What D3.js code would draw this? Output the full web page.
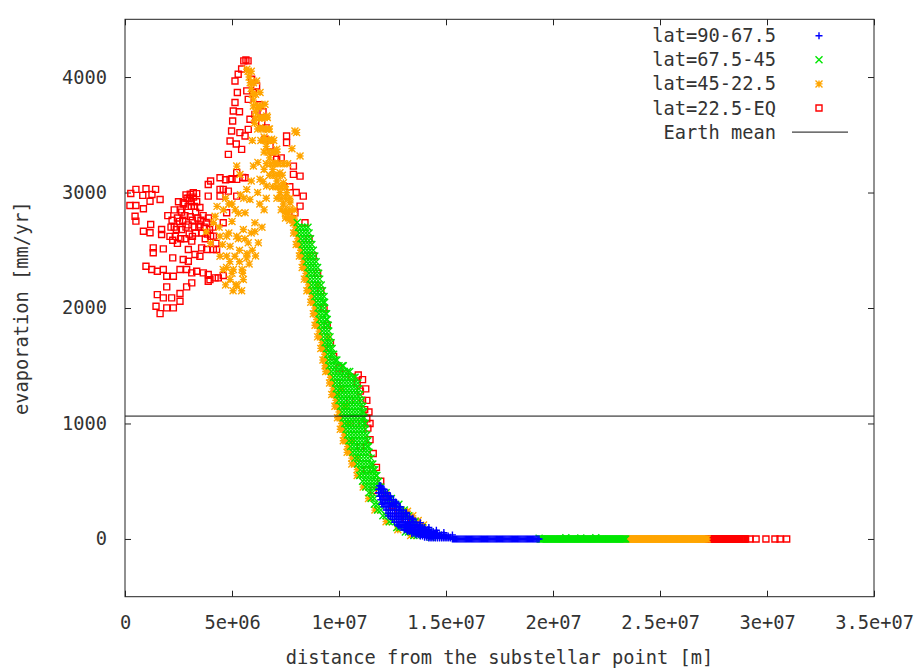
<!DOCTYPE html>
<html>
<head>
<meta charset="utf-8">
<script src="https://cdn.jsdelivr.net/npm/d3@7"></script>
<style>
  body { margin: 0; background: #fff; }
  text { font-family: "DejaVu Sans Mono", monospace; font-size: 18.7px; fill: #333; }
</style>
</head>
<body>
<svg id="chart" width="917" height="668"></svg>
<script>
// Distances are listed in units of 10^6 m, evaporation in mm/yr.
// Scattered samples are [distance, evaporation] pairs; dense stretches are
// listed as rows: [evaporation, [distances sharing that value]].
const DIST_UNIT = 1e6;

const xTickValues = [0, 5e6, 1e7, 1.5e7, 2e7, 2.5e7, 3e7, 3.5e7];
const xTickLabels = ["0", "5e+06", "1e+07", "1.5e+07", "2e+07", "2.5e+07", "3e+07", "3.5e+07"];
const yTickValues = [0, 1000, 2000, 3000, 4000];
const yTickLabels = ["0", "1000", "2000", "3000", "4000"];
const xTitle = "distance from the substellar point [m]";
const yTitle = "evaporation [mm/yr]";
const earthMeanEvap = 1064;

const seriesLabels = ["lat=90-67.5", "lat=67.5-45", "lat=45-22.5", "lat=22.5-EQ"];
const seriesColors = ["#0000ff", "#00e600", "#ffa500", "#ff0000"];

// ---- lat 90-67.5 ----
const polarRows = [
  [460, [11.88, 11.95]],
  [430, [11.85, 11.95, 12.05, 12.1]],
  [400, [11.87, 11.97, 12.07, 12.17, 12.25]],
  [370, [11.9, 12.0, 12.1, 12.2, 12.3, 12.4]],
  [340, [11.95, 12.05, 12.15, 12.25, 12.35, 12.45, 12.55]],
  [310, [12.05, 12.15, 12.25, 12.35, 12.45, 12.55, 12.65, 12.7]],
  [280, [12.1, 12.2, 12.3, 12.4, 12.5, 12.6, 12.7, 12.8, 12.85]],
  [250, [12.2, 12.3, 12.4, 12.5, 12.6, 12.7, 12.8, 12.9, 13.0]],
  [220, [12.3, 12.4, 12.5, 12.6, 12.7, 12.8, 12.9, 13.0, 13.1, 13.15]],
  [195, [12.4, 12.5, 12.6, 12.7, 12.8, 12.9, 13.0, 13.1, 13.2, 13.3]],
  [170, [12.5, 12.6, 12.7, 12.8, 12.9, 13.0, 13.1, 13.2, 13.3, 13.4, 13.45]],
  [145, [12.6, 12.7, 12.8, 12.9, 13.0, 13.1, 13.2, 13.3, 13.4, 13.5, 13.6]],
  [120, [12.75, 12.85, 12.95, 13.05, 13.15, 13.25, 13.35, 13.45, 13.55, 13.65, 13.75, 13.8]],
  [100, [12.9, 13.0, 13.1, 13.2, 13.3, 13.4, 13.5, 13.6, 13.7, 13.8, 13.9, 14.0]],
  [80, [13.05, 13.15, 13.25, 13.35, 13.45, 13.55, 13.65, 13.75, 13.85, 13.95, 14.05, 14.15, 14.2]],
  [65, [13.2, 13.3, 13.4, 13.5, 13.6, 13.7, 13.8, 13.9, 14.0, 14.1, 14.2, 14.3, 14.4]],
  [50, [13.4, 13.5, 13.6, 13.7, 13.8, 13.9, 14.0, 14.1, 14.2, 14.3, 14.4, 14.5, 14.6]],
  [37, [13.6, 13.7, 13.8, 13.9, 14.0, 14.1, 14.2, 14.3, 14.4, 14.5, 14.6, 14.7, 14.8, 14.9]],
  [25, [13.8, 13.9, 14.0, 14.1, 14.2, 14.3, 14.4, 14.5, 14.6, 14.7, 14.8, 14.9, 15.0, 15.1]],
  [15, [14.0, 14.1, 14.2, 14.3, 14.4, 14.5, 14.6, 14.7, 14.8, 14.9, 15.0, 15.1, 15.2]],
  [8, [14.2, 14.3, 14.4, 14.5, 14.6, 14.7, 14.8, 14.9, 15.0, 15.1, 15.2, 15.3]],
  [0, [15.3, 15.35, 15.4, 15.45, 15.5, 15.55, 15.6, 15.65, 15.7, 15.75, 15.8, 15.85, 15.9, 15.95,
       16.0, 16.05, 16.1, 16.15, 16.2, 16.25, 16.3, 16.35, 16.4, 16.45, 16.5, 16.55, 16.6, 16.65,
       16.7, 16.75, 16.8, 16.85, 16.9, 16.95, 17.0, 17.05, 17.1, 17.15, 17.2, 17.25, 17.3, 17.35,
       17.4, 17.45, 17.5, 17.55, 17.6, 17.65, 17.7, 17.75, 17.8, 17.85, 17.9, 17.95, 18.0, 18.05,
       18.1, 18.15, 18.2, 18.25, 18.3, 18.35, 18.4, 18.45, 18.5, 18.55, 18.6, 18.65, 18.7, 18.75,
       18.8, 18.85, 18.9, 18.95, 19.0, 19.05, 19.1, 19.15, 19.2, 19.25, 19.3, 19.35]]
];
const polarPoints = [
  [12.0,440],[12.4,370],[12.85,280],[13.45,180],[14.2,100],[14.9,55],[15.3,35],[12.65,320],
  [13.15,230],[13.8,140],[14.55,75],[11.85,400],[12.0,300],[12.3,200],[12.8,110],[13.4,50]
];

// ---- lat 67.5-45 ----
const midRows = [
  [2740, [8.05]],
  [2700, [8.1, 8.25, 8.4, 8.55]],
  [2650, [8.15, 8.3, 8.45, 8.6]],
  [2600, [8.22, 8.37, 8.52, 8.67]],
  [2550, [8.28, 8.43, 8.58, 8.73]],
  [2500, [8.35, 8.5, 8.65, 8.8]],
  [2450, [8.42, 8.57, 8.72, 8.87]],
  [2400, [8.48, 8.63, 8.78, 8.93]],
  [2350, [8.55, 8.7, 8.85, 9.0]],
  [2300, [8.6, 8.75, 8.9, 9.05]],
  [2250, [8.65, 8.8, 8.95, 9.1]],
  [2200, [8.72, 8.87, 9.02, 9.17]],
  [2150, [8.78, 8.93, 9.08, 9.23]],
  [2100, [8.87, 9.02, 9.17, 9.3]],
  [2050, [8.95, 9.1, 9.25, 9.33]],
  [2000, [9.02, 9.17, 9.32]],
  [1950, [9.07, 9.22, 9.37, 9.42]],
  [1900, [9.1, 9.25, 9.4, 9.45]],
  [1850, [9.15, 9.3, 9.45, 9.5]],
  [1800, [9.22, 9.37, 9.52]],
  [1750, [9.28, 9.43, 9.58]],
  [1700, [9.35, 9.5, 9.63]],
  [1650, [9.42, 9.57, 9.68]],
  [1600, [9.48, 9.63, 9.75]],
  [1550, [9.52, 9.67, 9.82, 9.9]],
  [1500, [9.55, 9.7, 9.85, 10.0, 10.15, 10.2]],
  [1450, [9.65, 9.8, 9.95, 10.1, 10.25, 10.4, 10.5]],
  [1400, [9.75, 9.9, 10.05, 10.2, 10.35, 10.5, 10.65, 10.75]],
  [1350, [9.83, 9.98, 10.13, 10.28, 10.43, 10.58, 10.73, 10.88]],
  [1300, [9.87, 10.02, 10.17, 10.32, 10.47, 10.62, 10.77, 10.92]],
  [1250, [9.93, 10.08, 10.23, 10.38, 10.53, 10.68, 10.83, 10.98]],
  [1200, [10.0, 10.15, 10.3, 10.45, 10.6, 10.75, 10.9, 11.05]],
  [1150, [10.08, 10.23, 10.38, 10.53, 10.68, 10.83, 10.98, 11.12]],
  [1100, [10.15, 10.3, 10.45, 10.6, 10.75, 10.9, 11.05, 11.15]],
  [1050, [10.2, 10.35, 10.5, 10.65, 10.8, 10.95, 11.1, 11.18]],
  [1000, [10.27, 10.42, 10.57, 10.72, 10.87, 11.02, 11.17, 11.22]],
  [950, [10.33, 10.48, 10.63, 10.78, 10.93, 11.08, 11.23]],
  [900, [10.4, 10.55, 10.7, 10.85, 11.0, 11.15, 11.3]],
  [850, [10.47, 10.62, 10.77, 10.92, 11.07, 11.22, 11.35]],
  [800, [10.55, 10.7, 10.85, 11.0, 11.15, 11.3, 11.38]],
  [750, [10.65, 10.8, 10.95, 11.1, 11.25, 11.4]],
  [700, [10.75, 10.9, 11.05, 11.2, 11.35, 11.5]],
  [650, [10.87, 11.02, 11.17, 11.32, 11.47, 11.58]],
  [600, [11.0, 11.15, 11.3, 11.45, 11.6, 11.67]],
  [550, [10.97, 11.12, 11.27, 11.42, 11.57, 11.72, 11.77]],
  [500, [11.1, 11.25, 11.4, 11.55, 11.7, 11.85]],
  [450, [11.25, 11.4, 11.55, 11.7, 11.85, 11.95]],
  [400, [11.4, 11.55, 12.2]],
  [350, [11.5, 11.65, 12.3, 12.45]],
  [300, [11.65, 11.8, 12.65, 12.8]],
  [250, [11.8, 11.95, 12.9, 13.05]],
  [200, [12.05, 12.2, 13.1, 13.25]],
  [150, [12.35, 12.5, 13.4, 13.55]],
  [100, [12.7, 12.85, 13.75, 13.9]],
  [60, [13.1, 13.25, 14.05, 14.2]],
  [30, [13.5, 13.65, 14.45, 14.6]],
  [0, [19.4, 19.45, 19.5, 19.55, 19.6, 19.65, 19.7, 19.75, 19.8, 19.85, 19.9, 19.95, 20.0, 20.05,
       20.1, 20.15, 20.2, 20.25, 20.3, 20.35, 20.4, 20.45, 20.5, 20.55, 20.6, 20.65, 20.7, 20.75,
       20.8, 20.85, 20.9, 20.95, 21.0, 21.05, 21.1, 21.15, 21.2, 21.25, 21.3, 21.35, 21.4, 21.45,
       21.5, 21.55, 21.6, 21.65, 21.7, 21.75, 21.8, 21.85, 21.9, 21.95, 22.0, 22.05, 22.1, 22.15,
       22.2, 22.25, 22.3, 22.35, 22.4, 22.45, 22.5, 22.55, 22.6, 22.65, 22.7, 22.75, 22.8, 22.85,
       22.9, 22.95, 23.0, 23.05, 23.1, 23.15, 23.2, 23.25, 23.3, 23.35, 23.4]]
];
const midPoints = [
  [14.3,15],[14.1,45],[19.35,6],[20.6,10],[21.3,8],[22.0,10]
];

// ---- lat 45-22.5 ----
const subtropicRows = [
  [4050, [5.75, 5.9]],
  [3950, [5.85, 6.0]],
  [3850, [5.95, 6.1]],
  [3750, [6.0, 6.2, 6.4]],
  [3650, [6.1, 6.3, 6.5, 6.65]],
  [3550, [6.2, 6.4, 6.6, 6.75]],
  [3450, [6.35, 6.55, 6.75, 6.95]],
  [3350, [6.5, 6.7, 6.9, 7.1]],
  [3250, [6.6, 6.8, 7.0, 7.2, 7.4]],
  [3150, [6.75, 6.95, 7.15, 7.35]],
  [3050, [6.9, 7.1, 7.3, 7.5]],
  [2950, [7.1, 7.3, 7.5, 7.7]],
  [2850, [7.3, 7.5, 7.7, 7.9]],
  [2780, [7.5, 7.7, 7.9]],
  [2740, [7.9]], [2700, [7.95]], [2650, [7.88, 8.0]], [2600, [8.07]], [2550, [8.0, 8.13]],
  [2500, [8.2]], [2450, [8.15, 8.27]], [2400, [8.33]], [2350, [8.28, 8.4]], [2300, [8.45]],
  [2250, [8.38, 8.5]], [2200, [8.57]], [2150, [8.5, 8.63]], [2100, [8.72]], [2050, [8.68, 8.8]],
  [2000, [8.87]], [1950, [8.8, 8.92]], [1900, [8.95]], [1850, [8.88, 9.0]], [1800, [9.07]],
  [1750, [9.0, 9.13]], [1700, [9.2]], [1650, [9.15, 9.27]], [1600, [9.33]], [1550, [9.25, 9.37]],
  [1500, [9.4]], [1450, [9.38, 9.5]], [1400, [9.6]], [1350, [9.56, 9.68]], [1300, [9.72]],
  [1250, [9.66, 9.78]], [1200, [9.85]], [1150, [9.81, 9.93]], [1100, [10.0]], [1050, [9.93, 10.05]],
  [1000, [10.12]], [950, [10.06, 10.18]], [900, [10.25]], [850, [10.2, 10.32]], [800, [10.4]],
  [750, [10.38, 10.5]], [700, [10.6]], [650, [10.6, 10.72]], [600, [10.85]], [550, [10.85]],
  [450, [11.13]], [350, [11.38]], [250, [11.68]], [150, [12.2]], [80, [12.75]], [30, [13.35]],
  [0, [23.45, 23.5, 23.55, 23.6, 23.65, 23.7, 23.75, 23.8, 23.85, 23.9, 23.95, 24.0, 24.05, 24.1,
       24.15, 24.2, 24.25, 24.3, 24.35, 24.4, 24.45, 24.5, 24.55, 24.6, 24.65, 24.7, 24.75, 24.8,
       24.85, 24.9, 24.95, 25.0, 25.05, 25.1, 25.15, 25.2, 25.25, 25.3, 25.35, 25.4, 25.45, 25.5,
       25.55, 25.6, 25.65, 25.7, 25.75, 25.8, 25.85, 25.9, 25.95, 26.0, 26.05, 26.1, 26.15, 26.2,
       26.25, 26.3, 26.35, 26.4, 26.45, 26.5, 26.55, 26.6, 26.65, 26.7, 26.75, 26.8, 26.85, 26.9,
       26.95, 27.0, 27.05, 27.1, 27.15, 27.2]]
];
const subtropicPoints = [
  [5.69,4068],[5.8,4000],[6.15,3966],[6.31,3866],[6.54,3764],[6.62,3663],[6.23,3735],[6.7,3547],
  [6.85,3461],[7.09,3374],[7.01,3258],[7.24,3172],[7.4,3085],[7.55,2998],[7.71,2911],[7.63,2825],
  [7.87,2738],[8.02,3519],[8.18,3316],[7.94,3533],[5.9,3900],[6.0,3800],[6.1,3700],[6.4,3640],
  [6.3,3560],[6.5,3480],[6.6,3400],[6.75,3300],[6.9,3200],[7.1,3100],[7.25,3000],[7.4,2900],
  [7.5,2820],[7.7,2760],[6.05,3600],[5.95,3450],[7.8,3380],[7.6,3250],
  [5.22,3229],[6.0,3229],[6.31,3114],[6.62,3056],[5.69,3027],[5.61,2825],[6.07,2738],[5.53,2680],
  [5.76,2564],[6.23,2564],[5.14,2448],[5.69,2434],[5.06,2333],[5.53,2246],[5.22,2188],[4.91,2246],
  [4.59,2333],[4.44,2448],[4.91,2535],[4.44,2622],[4.21,2795],[4.13,2738],[4.75,2622],[5.22,2622],
  [6.21,3261],[6.45,3096],[5.84,2940],[5.37,3157],[6.07,2662],[5.7,2472],[4.9,2402],[5.19,2203],
  [5.47,2333],[5.0,2900],[4.6,2850],[5.4,2980],[3.8,2660],[4.0,2560],
  [4.75,2450],[5.35,2500],[5.0,2750],[5.3,2820],[4.7,2950],[5.9,2650],[5.55,2950],[6.3,2900],
  [4.3,2880],[5.05,2150],[4.7,2200],[5.35,2400],
  [5.5,2300],[5.8,2380],[5.95,2500],[6.1,2450],[5.3,2600],[5.6,2600],[6.4,2700],[6.5,2850],
  [6.6,2950],[6.2,3000],[5.9,3100],[6.5,3200],[4.85,2900],[5.15,2850],[4.4,2700],[4.55,2550],
  [4.85,2650],[5.45,2150],[5.0,2300],[4.75,2350],
  [9.9,1250],[10.3,1150],[10.1,1300],[10.45,1000],[10.6,850],[10.85,700],[9.5,1750],[9.0,2200],
  [8.6,2450],[9.35,1500],[13.2,240],[13.45,200],[13.7,160],[13.95,120]
];

// ---- lat 22.5-EQ ----
const equatorRows = [
  [0, [27.25, 27.3, 27.35, 27.4, 27.45, 27.5, 27.55, 27.6, 27.65, 27.7, 27.75, 27.8, 27.85, 27.9,
       27.95, 28.0, 28.05, 28.1, 28.15, 28.2, 28.25, 28.3, 28.35, 28.4, 28.45, 28.5, 28.55, 28.6,
       28.65, 28.7, 28.75, 28.8, 28.85, 28.9, 28.95, 29.0, 29.2, 29.49, 29.95, 30.37, 30.61, 30.92]]
];
const equatorPoints = [
  [0.27,2992],[0.51,3027],[0.98,3033],[1.43,3027],[0.23,2888],[0.51,2888],[0.47,2795],[0.51,2752],
  [0.86,2860],[0.83,2975],[1.17,2925],[1.26,2983],[1.64,2940],[0.86,2665],[1.17,2651],[1.2,2723],
  [1.71,2680],[1.71,2637],[1.32,2521],[1.32,2478],[1.79,2512],[2.23,2587],[2.23,2434],[0.98,2362],
  [1.25,2333],[1.51,2318],[1.79,2333],[1.95,2275],[2.26,2275],[2.57,2333],[2.72,2420],[1.95,2183],
  [2.88,2183],[1.51,2116],[1.79,2088],[2.18,2088],[1.45,2015],[1.64,1951],[1.95,2001],[2.26,2001],
  [2.57,2058],[2.57,2125],[2.88,2333],[2.96,2405],[3.12,2304],[3.35,2318],[3.66,2304],[3.89,2290],
  [4.21,2261],[3.97,2246],[4.36,2261],[4.59,2281],[3.89,2232],[3.12,2218],[3.27,2463],[3.5,2448],
  [2.96,2506],[3.12,2579],[3.58,2521],[3.82,2506],[4.13,2506],[3.89,3070],[3.89,2969],[4.44,3128],
  [4.44,3027],[4.83,3012],[5.22,3172],
  [2.1,2620],[2.3,2700],[2.45,2780],[2.6,2850],[2.75,2900],[2.9,2950],[3.05,2985],[3.2,2960],
  [3.35,2920],[3.5,2870],[3.65,2800],[3.8,2740],[3.95,2680],[2.3,2850],[2.5,2920],[2.7,2760],
  [2.85,2700],[3.0,2640],[3.15,2760],[3.3,2830],[3.45,2700],[3.6,2650],[3.75,2600],[3.9,2780],
  [2.2,2760],[2.0,2800],[2.35,2620],[3.1,2880],[3.25,2700],[3.55,2760],[4.0,2620],[4.1,2700],
  [4.25,2560],[3.05,2790],[2.65,2680],[2.8,2600],[3.19,2998],[2.72,2911],
  [2.15,2700],[2.4,2680],[2.55,2750],[2.65,2830],[2.8,2800],[2.95,2880],[3.1,2920],[3.25,2880],
  [3.4,2780],[3.5,2720],[3.3,2650],[3.15,2620],[2.95,2720],[2.6,2600],[2.45,2560],[3.7,2700],
  [3.85,2640],[3.0,2950],[2.85,2980],[3.35,2990],
  [4.0,3100],[4.7,3110],[5.0,3120],[5.5,3130],
  [5.65,4148],[5.55,4140],[5.75,4140],[5.29,4024],[5.14,3966],[5.25,3866],[5.14,3779],[5.06,3706],
  [5.03,3619],[4.98,3533],[4.91,3446],[4.83,3330],[5.37,3519],[5.61,3489],[5.76,3807],[5.69,3880],
  [5.84,3634],[6.07,3677],[6.15,3923],[5.92,3981],[6.0,3866],[5.76,3547],[5.45,3374],[6.39,3605],
  [5.45,4070],[5.35,3700],[5.2,3420],
  [7.55,3432],[7.87,3229],[8.18,3142],[7.87,3157],[8.33,2969],[8.18,2882],[7.94,2825],[8.41,2738],
  [7.55,3489],[7.09,3287],[6.78,3402],[6.54,3461],[6.9,3350],[7.3,3300],[7.7,3050],[8.0,3000],
  [6.6,3560],[6.3,3760],[6.45,3700],
  [4.91,3114],[5.22,3114],[5.61,3128],[4.59,3027],[4.44,2969],[5.22,2969],[4.75,2825],[4.59,2738],
  [4.13,2622],[4.28,2506],
  [8.6,2600],[8.8,2450],[9.0,2300],[9.15,2150],[9.3,2000],[9.45,1850],[9.6,1700],[9.75,1580],
  [10.0,1480],[10.3,1430],[10.6,1400],[10.85,1350],[11.0,1280],[11.1,1200],[11.2,1120],[11.3,1040],
  [11.35,960],[11.45,860],[11.6,740],[11.75,620],[11.95,500],[12.2,380],[12.5,290],[12.8,220],
  [13.1,170],[13.4,120],[13.7,80],[14.0,45],[9.0,2000],[9.3,1650],[9.9,1350],[10.5,1200],
  [10.8,1000],[11.0,800],[11.3,600],[11.6,420],
  [11.25,1300],[11.3,1200],[11.4,1100],[11.45,1000],[10.9,1420],[11.1,1380]
];

// Combine each band's scattered samples with its dense rows
const expandRows = rows => rows.flatMap(([evap, dists]) => dists.map(d => [d, evap]));
const series = [
  polarPoints.concat(expandRows(polarRows)),
  midPoints.concat(expandRows(midRows)),
  subtropicPoints.concat(expandRows(subtropicRows)),
  equatorPoints.concat(expandRows(equatorRows))
];

const plotLeft = 125, plotRight = 874, plotTop = 19.3, plotBottom = 596.7;

const svg = d3.select("#chart");

const x = d3.scaleLinear().domain([0, 3.5e7]).range([plotLeft, plotRight]);
const y = d3.scaleLinear().domain([-500, 4500]).range([plotBottom, plotTop]);

// Point symbols: plus, cross, asterisk, open square
const s = 3.5, q = 3.0;
const plus = `M${-s},0H${s}M0,${-s}V${s}`;
const times = `M${-s},${-s}L${s},${s}M${-s},${s}L${s},${-s}`;
const star = plus + times;
const square = `M${-q},${-q}H${q}V${q}H${-q}Z`;
const symbols = [plus, times, star, square];
const symbolWidth = 1.4;

// Axes: ticks drawn inward on all four sides
const axisColor = "#222";
const gx = svg.append("g").attr("transform", `translate(0,${plotBottom})`)
  .call(d3.axisBottom(x).tickValues(xTickValues)
    .tickFormat((d, i) => xTickLabels[i]).tickSize(-6).tickPadding(19));
const gxTop = svg.append("g").attr("transform", `translate(0,${plotTop})`)
  .call(d3.axisTop(x).tickValues(xTickValues).tickFormat("").tickSize(-6));
const gy = svg.append("g").attr("transform", `translate(${plotLeft},0)`)
  .call(d3.axisLeft(y).tickValues(yTickValues)
    .tickFormat((d, i) => yTickLabels[i]).tickSize(-6).tickPadding(18));
const gyRight = svg.append("g").attr("transform", `translate(${plotRight},0)`)
  .call(d3.axisRight(y).tickValues(yTickValues).tickFormat("").tickSize(-6));

[gx, gxTop, gy, gyRight].forEach(g => {
  g.select(".domain").remove();
  g.selectAll(".tick line").attr("stroke", axisColor).attr("stroke-width", 1);
  g.selectAll("text").attr("fill", null);
  g.attr("font-family", null).attr("font-size", null);
});

// Points, clipped to the plot frame
svg.append("clipPath").attr("id", "plotClip")
  .append("rect").attr("x", plotLeft).attr("y", plotTop)
  .attr("width", plotRight - plotLeft).attr("height", plotBottom - plotTop);

const plotArea = svg.append("g").attr("clip-path", "url(#plotClip)");
[3, 2, 1, 0].forEach(k => {
  plotArea.append("g")
    .selectAll("path")
    .data(series[k])
    .join("path")
    .attr("transform", d => `translate(${x(d[0] * DIST_UNIT)},${y(d[1])})`)
    .attr("d", symbols[k])
    .attr("fill", "none")
    .attr("stroke", seriesColors[k])
    .attr("stroke-width", symbolWidth);
});

// Earth mean reference line
plotArea.append("line")
  .attr("x1", plotLeft).attr("x2", plotRight)
  .attr("y1", y(earthMeanEvap)).attr("y2", y(earthMeanEvap))
  .attr("stroke", "#111").attr("stroke-width", 1);

// Plot frame
svg.append("rect")
  .attr("x", plotLeft).attr("y", plotTop)
  .attr("width", plotRight - plotLeft).attr("height", plotBottom - plotTop)
  .attr("fill", "none").attr("stroke", axisColor).attr("stroke-width", 1);

// Axis titles
svg.append("text")
  .attr("x", (plotLeft + plotRight) / 2).attr("y", 657).attr("dy", "0.35em")
  .attr("text-anchor", "middle").text(xTitle);
svg.append("text")
  .attr("transform", `translate(21,${(plotTop + plotBottom) / 2}) rotate(-90)`)
  .attr("dy", "0.35em").attr("text-anchor", "middle").text(yTitle);

// Legend
const legendRows = [...seriesLabels, "Earth mean"];
const legend = svg.append("g");
legendRows.forEach((label, i) => {
  const ry = 35.7 + i * 24.1;
  legend.append("text").attr("x", 776).attr("y", ry).attr("dy", "0.35em")
    .attr("text-anchor", "end").text(label);
  if (i < 4) {
    legend.append("path")
      .attr("transform", `translate(819,${ry})`)
      .attr("d", symbols[i]).attr("fill", "none")
      .attr("stroke", seriesColors[i]).attr("stroke-width", symbolWidth);
  } else {
    legend.append("line").attr("x1", 792).attr("x2", 848)
      .attr("y1", ry).attr("y2", ry).attr("stroke", "#111").attr("stroke-width", 1);
  }
});
</script>
</body>
</html>
